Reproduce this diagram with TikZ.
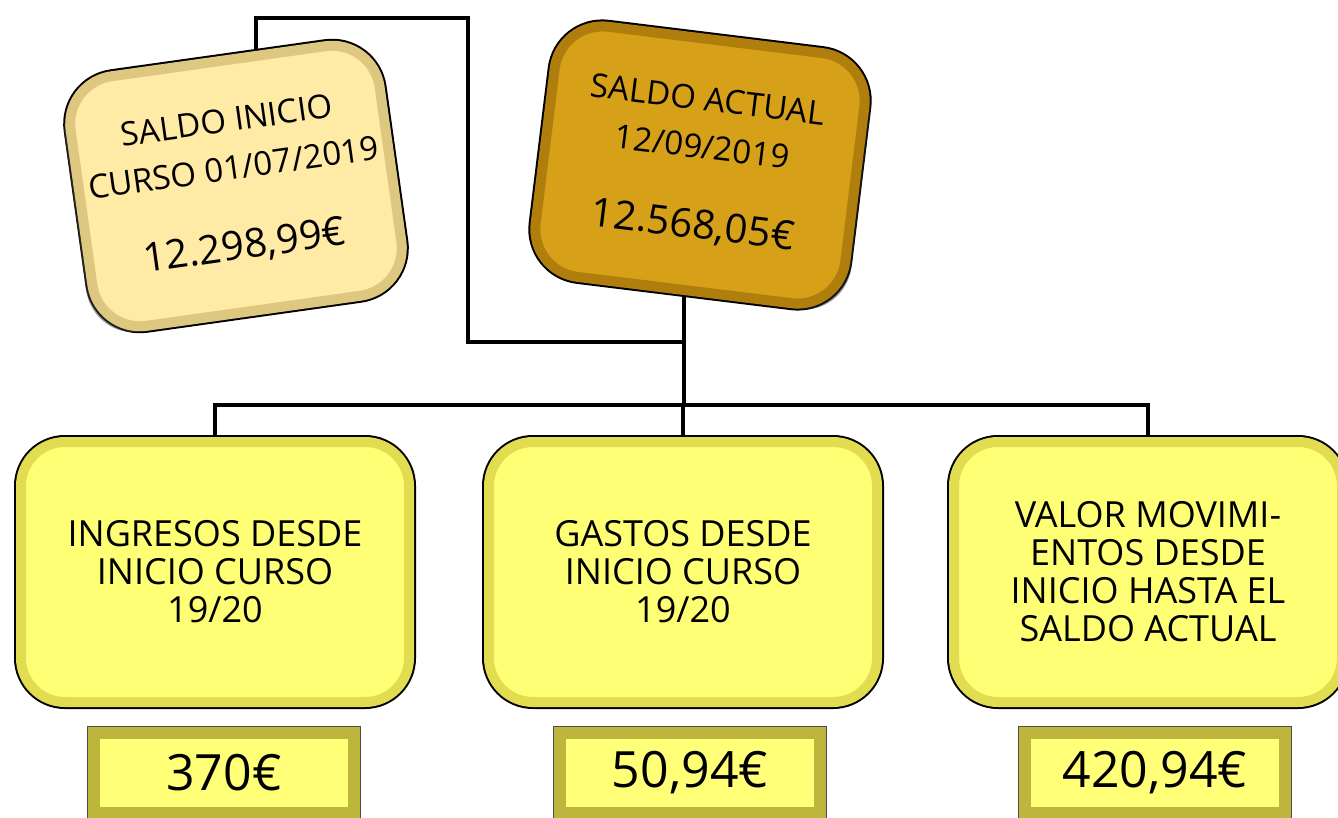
\documentclass[tikz,border=0pt]{standalone}
\usepackage{fontspec}
\setmainfont{Open Sans}
\usetikzlibrary{shadows, backgrounds}

\definecolor{boxyellow}{RGB}{255,255,117}
\definecolor{boxrim}{RGB}{226,220,80}
\definecolor{valyellow}{RGB}{255,255,120}
\definecolor{valrim}{RGB}{190,182,60}
\definecolor{inicream}{RGB}{255,234,166}
\definecolor{inirim}{RGB}{222,200,128}
\definecolor{actgold}{RGB}{214,160,24}
\definecolor{actrim}{RGB}{176,126,12}

\tikzset{
  link/.style={line width=2.2pt},
  bevelbox/.style={rounded corners=22pt, minimum width=194pt, minimum height=130pt,
    fill=boxyellow, draw=boxrim, line width=5pt, preaction={draw=black, line width=7pt},
    align=center, font=\fontsize{18}{19}\selectfont},
  valuebox/.style={minimum width=130pt, minimum height=40pt,
    fill=valyellow, draw=valrim, line width=6pt, preaction={draw=black!70, line width=7pt},
    font=\fontsize{25}{27}\selectfont},
  tiltbox/.style={rounded corners=24pt, minimum width=156pt, minimum height=126pt,
    line width=5pt, preaction={draw=black, line width=7pt},
    align=center, font=\fontsize{16.5}{24}\selectfont}
}

\begin{document}
\begin{tikzpicture}[x=0.5pt,y=-0.5pt]
\useasboundingbox (0,0) rectangle (1338,818);
% balances at the top
\node[tiltbox, fill=inicream, draw=inirim, rotate=8,
      drop shadow={shadow xshift=-3pt, shadow yshift=-3pt, fill=black!75}] (ini) at (236,186)
      {SALDO INICIO\\CURSO 01/07/2019\\[16pt]{\fontsize{20}{22}\selectfont 12.298,99€}};
\node[tiltbox, fill=actgold, draw=actrim, rotate=-7,
      drop shadow={shadow xshift=3pt, shadow yshift=-3pt, fill=black!85}] (act) at (700,165)
      {SALDO ACTUAL\\12/09/2019\\[16pt]{\fontsize{20}{22}\selectfont 12.568,05€}};
% movements
\node[bevelbox] (ing) at (215,572) {INGRESOS DESDE\\INICIO CURSO\\19/20};
\node[bevelbox] (gas) at (683,572) {GASTOS DESDE\\INICIO CURSO\\19/20};
\node[bevelbox] (mov) at (1148,572) {VALOR MOVIMI-\\ENTOS DESDE\\INICIO HASTA EL\\SALDO ACTUAL};
% amounts
\node[valuebox] (ingv) at (224,773) {370€};
\node[valuebox] (gasv) at (690,773) {50,94€};
\node[valuebox] (movv) at (1155,773) {420,94€};
% connectors
\coordinate (bend) at (468,18);
\coordinate (lvl) at (0,342);
\coordinate (bus) at (0,405);
\begin{scope}[on background layer]
\draw[link] ([xshift=10pt]ini.center) |- (bend) |- (act.south |- lvl);
\draw[link] (act.south) -- (act.south |- bus);
\draw[link] (ing.north) |- (act.south |- bus) -| (mov.north);
\draw[link] (gas.north) -- (gas.north |- bus);
\end{scope}
\end{tikzpicture}
\end{document}
